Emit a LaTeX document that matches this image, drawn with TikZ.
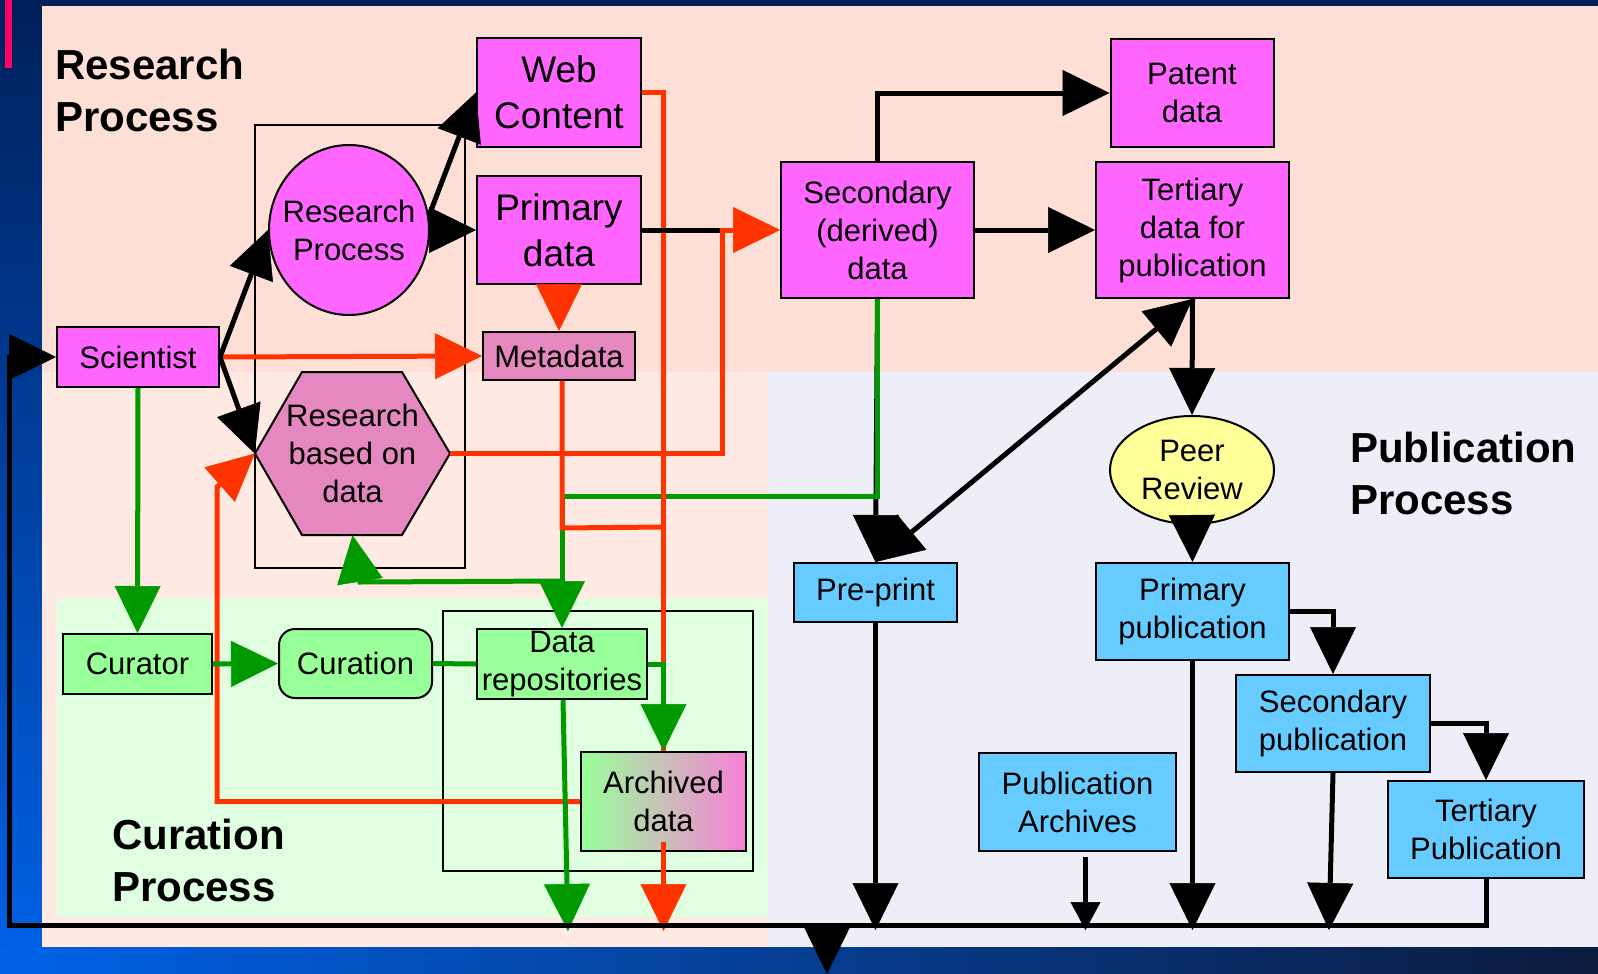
\documentclass[tikz,border=0pt]{standalone}
\usepackage{fontspec}
\setmainfont{Liberation Sans}
\usetikzlibrary{arrows.meta,shapes.geometric,calc}
\definecolor{mag}{HTML}{FF66FF}
\definecolor{mauve}{HTML}{E688C0}
\definecolor{lgreen}{HTML}{99FF99}
\definecolor{sky}{HTML}{66CCFF}
\definecolor{pyellow}{HTML}{FFFF99}
\definecolor{rd}{HTML}{FF3300}
\definecolor{gr}{HTML}{009900}
\definecolor{bgpink}{HTML}{FDDFD6}
\definecolor{bgpinklt}{HTML}{FFE9E3}
\definecolor{bggreen}{HTML}{E0FFE0}
\definecolor{bglav}{HTML}{EEEEF8}
\definecolor{navy}{HTML}{00205A}
\definecolor{brblue}{HTML}{0062E8}
\definecolor{darknavy}{HTML}{0C1A3C}
\definecolor{pinkbar}{HTML}{FF0066}
\definecolor{archpink}{HTML}{F880D8}
\newcommand{\zw}[1]{\makebox[0pt]{#1}}
\begin{document}
\begin{tikzpicture}[x=1pt,y=-1pt,
  >={Triangle[length=47pt,width=46pt,line width=0.5pt]},
  box/.style={draw=black,line width=2pt,inner sep=0pt,align=center,font=\fontsize{31}{38}\selectfont},
  bigtext/.style={font=\fontsize{37}{46}\selectfont},
  title/.style={font=\fontsize{42}{52}\selectfont\bfseries,align=left,anchor=north west,inner sep=0pt},
  thinrect/.style={draw=black,line width=2pt},
  conn/.style={line width=5pt},
  blk/.style={conn,draw=black,->},
  blkboth/.style={conn,draw=black,<->},
  blksmall/.style={conn,draw=black,-{Triangle[length=28pt,width=30pt,line width=0.5pt]}},
  redl/.style={conn,draw=rd},
  reda/.style={conn,draw=rd,->},
  grl/.style={conn,draw=gr},
  gra/.style={conn,draw=gr,->},
]
\useasboundingbox (0,0) rectangle (1598,974);
% background
\shade[top color=navy,bottom color=brblue] (0,0) rectangle (1598,974);
\shade[left color=brblue,right color=darknavy] (0,947) rectangle (1598,974);
\fill[pinkbar] (5,0) rectangle (12,68);
\fill[bgpink] (42,6) rectangle (1598,372);
\fill[bgpinklt] (42,372) rectangle (768,947);
\fill[bggreen] (57,599) rectangle (768,917);
\fill[bglav] (768,372) rectangle (1598,947);
% grouping rectangles
\draw[thinrect] (255,125) rectangle (465,568);
\draw[thinrect] (443,611) rectangle (753,871);
% titles
\node[title] (t1) at (55,49) {Research\\Process};
\node[title] (t2) at (112,819) {Curation\\Process};
\node[title] (t3) at (1350,432) {Publication\\Process};
% research nodes
\node[box,fill=mag,bigtext,minimum width=164,minimum height=109] (web) at (559,92.5) {Web\\Content};
\node[box,fill=mag,bigtext,minimum width=164,minimum height=108] (pd) at (559,230) {Primary\\data};
\node[box,fill=mauve,minimum width=152,minimum height=48] (meta) at (559,356) {Metadata};
\node[box,fill=mag,minimum width=162,minimum height=60] (sci) at (138,357) {Scientist};
\node[box,fill=mag,ellipse,minimum width=160,minimum height=170] (rp) at (349,230) {\zw{Research}\\\zw{Process}};
\filldraw[fill=mauve,draw=black,line width=2pt] (255,453.5) -- (302,372) -- (402,372) -- (450,453.5) -- (402,535) -- (302,535) -- cycle;
\node[inner sep=0pt,align=center,font=\fontsize{31}{38}\selectfont,minimum width=195,minimum height=163] (hex) at (352.5,453.5) {Research\\based on\\data};
\node[box,fill=mag,minimum width=193,minimum height=136] (sec) at (877.5,230) {Secondary\\(derived)\\data};
\node[box,fill=mag,minimum width=163,minimum height=108] (pat) at (1192,93) {Patent\\data};
\node[box,fill=mag,minimum width=193,minimum height=136] (tert) at (1192.5,230) {Tertiary\\data for\\publication};
% curation nodes
\node[box,fill=lgreen,minimum width=149,minimum height=60] (cur) at (137.5,664) {Curator};
\node[box,fill=lgreen,rounded corners=16pt,minimum width=153,minimum height=69] (cura) at (355.5,663.5) {Curation};
\node[box,fill=lgreen,minimum width=170,minimum height=70] (repos) at (562,664) {Data\\repositories};
\node[box,left color=lgreen,right color=archpink,minimum width=165,minimum height=99] (arch) at (663.5,801.5) {Archived\\data};
% publication nodes
\node[box,fill=pyellow,ellipse,minimum width=164,minimum height=108] (peer) at (1192,470) {\zw{Peer}\\\zw{Review}};
\node[box,fill=sky,minimum width=163,minimum height=59] (pre) at (875.5,592.5) {Pre-print};
\node[box,fill=sky,minimum width=193,minimum height=97] (pp) at (1192.5,611.5) {Primary\\publication};
\node[box,fill=sky,minimum width=194,minimum height=97] (sp) at (1333,723.5) {Secondary\\publication};
\node[box,fill=sky,minimum width=196,minimum height=97] (tp) at (1486,829.5) {Tertiary\\Publication};
\node[box,fill=sky,minimum width=197,minimum height=98] (pa) at (1077.5,802) {Publication\\Archives};
% coordinates
\coordinate (bl) at (9,925);
\coordinate (out) at (827,974);
% black under green
\draw[blk] (sec.south) -- (pre.north);
% green
\draw[gra] (sec.south) -- ++(0,197) -| (repos.north);
\draw[gra] ($(repos.north)+(0,-47)$) -- (360,582) -- (hex.south);
% red
\draw[reda] (sci.east) -- (meta.west);
\draw[reda] (pd.south) -- (meta.north);
\draw[reda] (hex.east) -| ($(sec.west)+(-58,0)$) -- (sec.west);
\draw[redl] (web.east) -| (arch.north);
\draw[redl] ($(meta.south)+(3,0)$) -- ++(0,147) -- (663,527);
\draw[reda] (arch.west) -| (217,487) -- (hex.west);
\draw[reda] ($(arch.south)+(0,-10)$) -- ++(0,89);
% green on top
\draw[gra] (sci.south) -- (cur.north);
\draw[gra] (cur.east) -- (cura.west);
\draw[grl] (cura.east) -- (repos.west);
\draw[gra] (repos.east) -| (arch.north);
\draw[gra] ($(repos.south)+(1,0)$) -- ++(5,231);
% black connectors
\draw[blk] (sci.east) -- (rp.west);
\draw[blk] (sci.east) -- (hex.west);
\draw[blk] (rp.10) -- (web.west);
\draw[blk] (rp.east) -- (pd.west);
\draw[conn,draw=black] (pd.east) -- (720,230);
\draw[blk] (sec.north) |- (pat.west);
\draw[blk] (sec.east) -- (tert.west);
\draw[blkboth] (pre.north) -- (tert.south);
\draw[blk] (tert.south) -- (peer.north);
\draw[blk] (peer.south) -- (pp.north);
\draw[blk] (pp.east) -| (sp.north);
\draw[blk] (sp.east) -| (tp.north);
\draw[blk] (tp.south) |- (bl) |- (sci.west);
\draw[blk] (pre.south) -- ++(0,307);
\draw[blksmall] ($(pa.south)+(8,5)$) -- ++(0,73);
\draw[blk] (pp.south) -- ++(0,269);
\draw[blk] (sp.south) -- ++(-4,157);
\draw[blk] (out |- bl) -- (out);
\end{tikzpicture}
\end{document}
